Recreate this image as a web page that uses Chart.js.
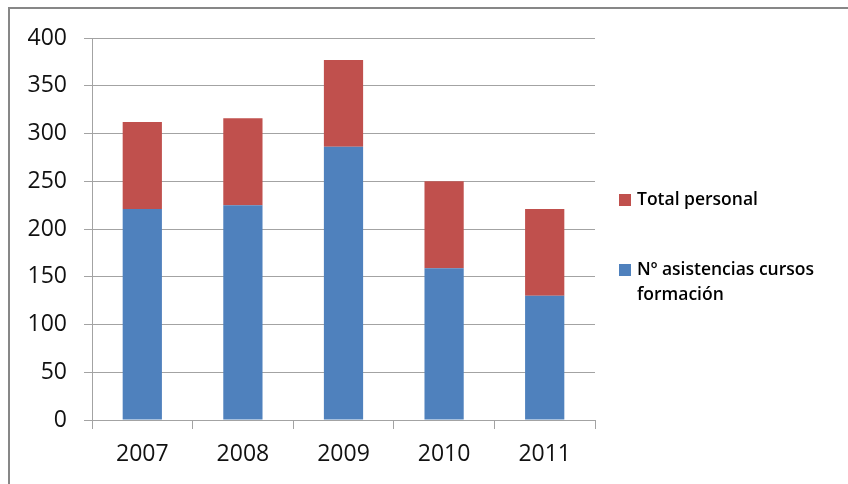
<!DOCTYPE html>
<html>
<head>
<meta charset="utf-8">
<script src="https://cdn.jsdelivr.net/npm/chart.js@4"></script>
<style>
  html, body { margin: 0; padding: 0; background: #fff; }
  #wrap { position: relative; width: 848px; height: 484px; overflow: hidden; }
  #frame { position: absolute; left: 8px; top: 7px; width: 900px; height: 600px; border: 2px solid #878787; box-sizing: border-box; }
  canvas { position: absolute; left: 0; top: 0; }
</style>
</head>
<body>
<div id="wrap">
  <div id="frame"></div>
  <canvas id="chart" width="848" height="484"></canvas>
</div>
<script>
// Data
const years = ['2007', '2008', '2009', '2010', '2011'];
const asistencias = [221, 225, 286, 159, 130];
const totalPersonal = [91, 91, 91, 91, 91];
const yTicks = [0, 50, 100, 150, 200, 250, 300, 350, 400];

const BLUE = '#4f81bd';
const RED = '#c0504d';
const GRID = '#a3a3a3';

// Legend on the right, drawn by hand so the long label can wrap like in Excel
const sideLegend = {
  id: 'sideLegend',
  afterDraw(chart) {
    const ctx = chart.ctx;
    const items = chart.data.datasets.slice().reverse();
    const x = 619;
    const rows = [200, 270];
    ctx.save();
    ctx.font = '600 17.5px "Open Sans"';
    ctx.textBaseline = 'middle';
    items.forEach((ds, i) => {
      const y = rows[i];
      ctx.fillStyle = ds.backgroundColor;
      ctx.fillRect(x, y - 6, 12, 12);
      // simple word wrap
      const words = ds.label.split(' ');
      const lines = [];
      let line = '';
      words.forEach(w => {
        const test = line ? line + ' ' + w : w;
        if (ctx.measureText(test).width > 200 && line) {
          lines.push(line);
          line = w;
        } else {
          line = test;
        }
      });
      lines.push(line);
      ctx.fillStyle = '#000';
      lines.forEach((l, j) => ctx.fillText(l, x + 18, y + j * 25));
    });
    ctx.restore();
  }
};

const ctx = document.getElementById('chart').getContext('2d');
new Chart(ctx, {
  type: 'bar',
  data: {
    labels: years,
    datasets: [
      {
        label: 'Nº asistencias cursos formación',
        data: asistencias,
        backgroundColor: BLUE,
        barPercentage: 0.39,
        categoryPercentage: 1
      },
      {
        label: 'Total personal',
        data: totalPersonal,
        backgroundColor: RED,
        barPercentage: 0.39,
        categoryPercentage: 1
      }
    ]
  },
  options: {
    responsive: false,
    animation: false,
    layout: {
      padding: { top: 38, right: 253, bottom: 0, left: 0 }
    },
    plugins: {
      legend: { display: false },
      tooltip: { enabled: false }
    },
    scales: {
      x: {
        stacked: true,
        grid: {
          drawOnChartArea: false,
          drawTicks: true,
          tickLength: 9,
          color: GRID
        },
        border: { color: GRID },
        ticks: {
          color: '#111',
          padding: 12,
          font: { family: '"Open Sans"', size: 23 }
        },
        afterFit(scale) { scale.height = 64; }
      },
      y: {
        stacked: true,
        min: 0,
        max: 400,
        afterBuildTicks(scale) { scale.ticks = yTicks.map(v => ({ value: v })); },
        grid: {
          color: GRID,
          tickLength: 8
        },
        border: { color: GRID },
        ticks: {
          color: '#111',
          padding: 17,
          font: { family: '"Open Sans"', size: 23 }
        },
        afterFit(scale) { scale.width = 92; }
      }
    }
  },
  plugins: [sideLegend]
});
</script>
</body>
</html>
